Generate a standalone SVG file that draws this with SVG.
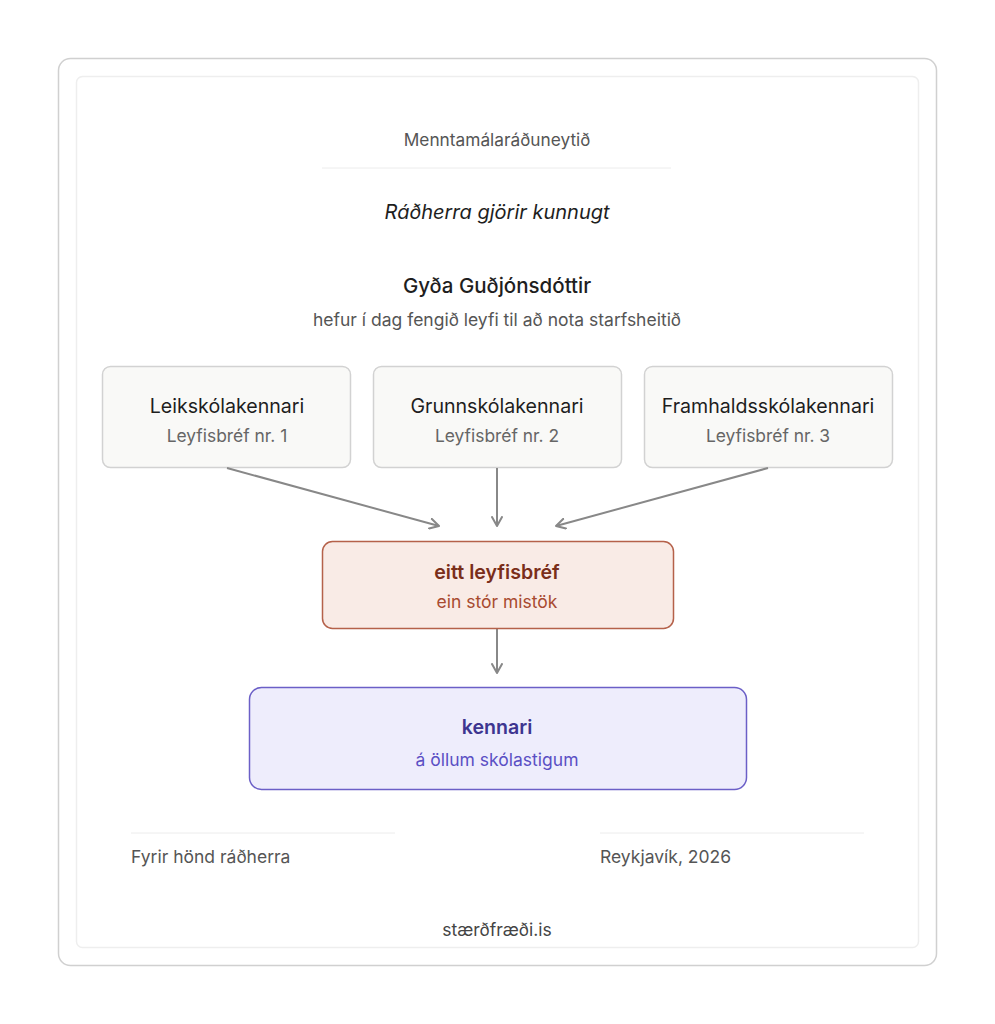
<svg xmlns="http://www.w3.org/2000/svg" width="995" height="1024" viewBox="0 0 995 1024">
<defs>
<marker id="arr" viewBox="0 0 12 12" refX="10" refY="6" markerWidth="12" markerHeight="12" markerUnits="userSpaceOnUse" orient="auto">
<path d="M1,1 L10,6 L1,11" fill="none" stroke="#888" stroke-width="2" stroke-linecap="round" stroke-linejoin="round"/>
</marker>
</defs>
<style>
text{font-family:Inter,"Noto Sans","Liberation Sans",sans-serif;text-anchor:middle}
.muted{fill:#555;font-size:17.5px}
.lic rect{fill:#f9f9f7;stroke:#d2d2d2;stroke-width:1.5}
.lt{fill:#1e1e1e;font-size:19.6px}
.ls{fill:#666;font-size:17.4px}
.conn line{stroke:#888;stroke-width:2;marker-end:url(#arr)}
.rule{stroke:#ececec;stroke-width:1}
</style>
<rect width="995" height="1024" fill="#ffffff"/>
<rect x="58.5" y="58.5" width="878" height="907" rx="12" fill="#fff" stroke="#d0d0d0" stroke-width="1.5"/>
<rect x="76.5" y="76.5" width="842" height="871" rx="6" fill="#fff" stroke="#eeeeee" stroke-width="1.5"/>
<g id="header">
<text x="497" y="146" class="muted" style="font-size:17.3px">Menntamálaráðuneytið</text>
<line x1="322" y1="168" x2="671" y2="168" class="rule"/>
<text x="497" y="219" style="font-size:20px;font-style:italic;fill:#1e1e1e">Ráðherra gjörir kunnugt</text>
<text x="497" y="293" style="font-size:20.5px;font-weight:500;fill:#1e1e1e">Gyða Guðjónsdóttir</text>
<text x="497" y="326" class="muted">hefur í dag fengið leyfi til að nota starfsheitið</text>
</g>
<g id="leik" class="lic">
<rect x="102.5" y="366.5" width="248" height="101" rx="8"/>
<text x="227" y="413" class="lt">Leikskólakennari</text>
<text x="227" y="442" class="ls">Leyfisbréf nr. 1</text>
</g>
<g id="grunn" class="lic">
<rect x="373.5" y="366.5" width="248" height="101" rx="8"/>
<text x="497" y="413" class="lt">Grunnskólakennari</text>
<text x="497" y="442" class="ls">Leyfisbréf nr. 2</text>
</g>
<g id="framhalds" class="lic">
<rect x="644.5" y="366.5" width="248" height="101" rx="8"/>
<text x="768" y="413" class="lt">Framhaldsskólakennari</text>
<text x="768" y="442" class="ls">Leyfisbréf nr. 3</text>
</g>
<g id="connectors" class="conn">
<line x1="227" y1="468" x2="439" y2="526"/>
<line x1="497" y1="468" x2="497" y2="526"/>
<line x1="768" y1="468" x2="556" y2="526"/>
<line x1="497" y1="629" x2="497" y2="673"/>
</g>
<g id="eitt">
<rect x="322.5" y="541.5" width="351" height="87" rx="10" fill="#f9ebe6" stroke="#b5614a" stroke-width="1.5"/>
<text x="497" y="579" style="font-size:19.6px;font-weight:600;fill:#7a2e1a">eitt leyfisbréf</text>
<text x="497" y="608" style="font-size:17.5px;fill:#a84a30">ein stór mistök</text>
</g>
<g id="kennari">
<rect x="249.5" y="687.5" width="497" height="102" rx="12" fill="#eeedfc" stroke="#6b5fc7" stroke-width="1.5"/>
<text x="497" y="734" style="font-size:19.6px;font-weight:600;fill:#3d3590">kennari</text>
<text x="497" y="766" style="font-size:17.5px;fill:#5a4fc4">á öllum skólastigum</text>
</g>
<g id="footer">
<line x1="131" y1="833" x2="395" y2="833" class="rule"/>
<line x1="600" y1="833" x2="864" y2="833" class="rule"/>
<text x="131" y="863" class="muted" style="text-anchor:start">Fyrir hönd ráðherra</text>
<text x="600" y="863" class="muted" style="text-anchor:start">Reykjavík, 2026</text>
<text x="497" y="936" class="muted" style="fill:#444">stærðfræði.is</text>
</g>
</svg>
